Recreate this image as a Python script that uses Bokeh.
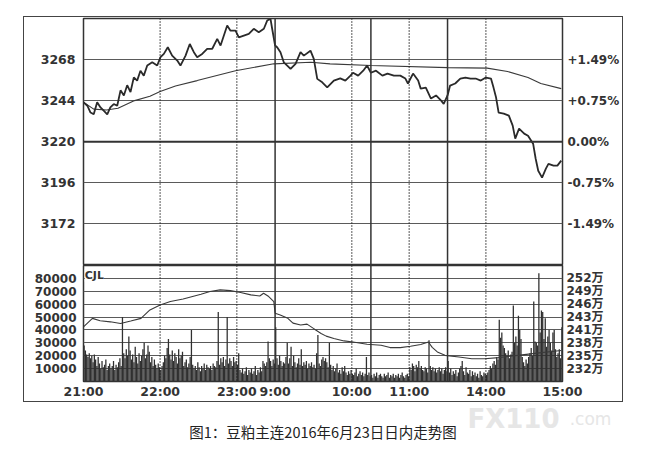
from bokeh.plotting import figure
from bokeh.models import Range1d, LinearAxis, FixedTicker, Span, Label, ColumnDataSource, Spacer
from bokeh.layouts import column, row
from bokeh.embed import file_html
from bokeh.resources import INLINE
from bokeh.core.properties import value

# ---------------- data ----------------
# x = trading-minute index: 21:00-23:30 | 9:00-10:15 | 10:30-11:30 | 13:30-15:00
tick_minutes = [0, 60, 120, 150, 210, 255, 315, 375]
tick_labels = ["21:00", "22:00", "23:00", "9:00", "10:00", "11:00", "14:00", "15:00"]
session_breaks = [150, 225, 285]
hour_lines = [60, 120, 210, 255, 315]

price_ticks = [3172, 3196, 3220, 3244, 3268]
pct_labels = ["-1.49%", "-0.75%", "0.00%", "+0.75%", "+1.49%"]
prev_settle = 3220

vol_ticks = [10000, 20000, 30000, 40000, 50000, 60000, 70000, 80000]
oi_labels = ["232万", "235万", "238万", "241万", "243万", "246万", "249万", "252万"]

price_min = [0, 3, 5.5, 8, 10.7, 13.3, 16, 18.6, 21, 23.7, 26.4, 29, 31.6, 34.2, 36.8, 39.4,
             42, 44.6, 47.2, 49.9, 53.8, 57.7, 60.3, 62.9, 66, 69.4, 73.4, 75.9, 79.9, 83.2,
             86.4, 89, 92.9, 96.8, 100.8, 104.7, 107.3, 112.5, 115.1, 119, 121.6, 125.5,
             129.4, 133.3, 137.2, 141.2, 143.8, 146.4, 147.7,
             150, 151.6, 154.2, 156.8, 159.5, 162.1, 166, 169.9, 172.5, 177.7, 180.3, 183,
             186.9, 190.8, 196, 201, 205, 209, 211, 215, 219, 222, 225, 229, 234, 238, 243,
             248, 252, 254, 258, 262, 264, 268, 272, 276, 280, 282, 285, 287, 291, 295, 299,
             303, 307, 311, 315, 319, 321, 323, 325, 329, 333, 336, 338, 341, 345, 348, 352,
             354, 356, 359, 362, 364, 368, 371, 374]
price = [3243, 3241, 3237, 3236, 3243, 3240, 3238, 3236, 3240, 3242, 3241, 3250, 3247, 3253,
         3249, 3257.6, 3255.7, 3261.5, 3258.6, 3264.5, 3266.4, 3264.5, 3269.4, 3271.3,
         3275.2, 3270.3, 3267.4, 3264.5, 3270.3, 3277.1, 3272.3, 3269.4, 3271.3, 3274.3,
         3274.3, 3280.1, 3276.2, 3287.9, 3284.9, 3284.9, 3281, 3282, 3283, 3286, 3284, 3286,
         3290.8, 3291.8, 3286,
         3276.2, 3275.2, 3272.3, 3266.4, 3264.5, 3262.5, 3265.5, 3272.3, 3270.3, 3273.2,
         3268.4, 3256.7, 3254.7, 3251.8, 3255.7, 3257, 3255.7, 3258.6, 3260.3, 3258.6,
         3261.5, 3264.5, 3260.3, 3261.5, 3258.6, 3259.8, 3258.6, 3258.6, 3256.9, 3254,
         3259.8, 3255.7, 3251, 3251.6, 3245.2, 3247, 3244, 3242.1, 3247, 3252.8, 3254,
         3256.9, 3257.5, 3256.9, 3256.9, 3255.7, 3257.5, 3256.9, 3251.6, 3245.8, 3237,
         3236.4, 3235.2, 3229.4, 3221.8, 3227.6, 3224.7, 3223.5, 3218.8, 3210, 3203, 3199,
         3204.2, 3207, 3206, 3206, 3208.9]

avg_min = [0, 8, 18, 27, 40, 52, 60, 72, 89, 119, 149, 178, 193, 225, 285, 316, 332, 348, 358, 374]
avg_price = [3243, 3239, 3238.5, 3239.5, 3244, 3246.5, 3249.3, 3252.5, 3255.7, 3261.5,
             3265.5, 3266.4, 3265.5, 3264.5, 3263.3, 3263, 3261, 3257.5, 3254, 3251]

# volume (CJL) per minute, in thousands of lots
volume_k = [
    28, 24, 21, 19, 22, 18, 20, 15, 21, 17,
    12, 19, 14, 10, 16, 11, 13, 17, 9, 12,
    14, 10, 12, 16, 9, 13, 11, 15, 18, 12,
    50, 22, 18, 25, 20, 35, 24, 17, 21, 15,
    27, 19, 14, 22, 16, 20, 25, 30, 18, 21,
    28, 23, 15, 19, 12, 17, 13, 10, 14, 11,
    9, 12, 15, 20, 18, 26, 33, 21, 17, 24,
    16, 22, 19, 14, 25, 18, 20, 23, 12, 15,
    17, 11, 14, 19, 40, 13, 10, 12, 9, 15,
    11, 8, 12, 10, 14, 9, 13, 11, 10, 12,
    9, 14, 12, 11, 16, 54, 13, 18, 15, 19,
    12, 17, 50, 14, 18, 16, 12, 19, 15, 16,
    13, 22, 9, 7, 10, 6, 8, 11, 5, 9,
    7, 10, 6, 8, 12, 5, 9, 7, 11, 8,
    16, 14, 12, 15, 31, 18, 16, 12, 17, 14,
    42, 18, 13, 20, 16, 12, 15, 14, 19, 30,
    14, 18, 27, 12, 20, 15, 11, 14, 18, 13,
    25, 12, 15, 13, 16, 10, 14, 12, 15, 11,
    13, 10, 22, 36, 14, 12, 17, 19, 16, 18,
    15, 11, 30, 13, 9, 12, 8, 10, 14, 7,
    9, 6, 11, 8, 12, 7, 5, 8, 6, 9,
    6, 5, 7, 10, 4, 6, 8, 5, 7, 4,
    6, 19, 5, 7, 4, 5, 3, 6, 4, 7,
    3, 5, 6, 4, 3, 6, 4, 5, 7, 3,
    5, 4, 6, 3, 5, 4, 6, 3, 5, 7,
    4, 3, 5, 6, 4, 11, 9, 14, 12, 8,
    13, 11, 16, 10, 12, 9, 8, 11, 10, 7,
    32, 12, 9, 11, 8, 10, 7, 9, 11, 8,
    10, 6, 9, 11, 8,
    16, 7, 10, 5, 8, 6, 9, 4, 7, 10,
    12, 16, 8, 5, 11, 7, 6, 9, 4, 8,
    5, 7, 4, 6, 3, 8, 5, 4, 7, 6,
    5, 7, 9, 12, 10, 14, 16, 13, 19, 17,
    48, 34, 38, 28, 26, 22, 20, 24, 18, 21,
    23, 59, 30, 35, 28, 51, 40, 33, 19, 15,
    12, 17, 14, 19, 22, 26, 20, 62, 31, 30,
    28, 84, 38, 55, 54, 33, 49, 27, 35, 40,
    30, 24, 38, 40, 25, 19, 22, 25, 18, 42,
]

# open interest (持仓量), in 万 lots
oi_min = [0, 7, 13, 21, 29, 37, 45, 52, 60, 68, 78, 92, 99, 107, 115, 123, 131, 138, 141,
          145, 149, 150, 154, 160, 164, 170, 175, 180, 186, 190, 196, 204, 211, 222, 233,
          240, 248, 256, 264, 270, 273, 277, 283, 294, 304, 314, 325, 340, 355, 374]
oi_wan = [241.26, 243.14, 242.60, 242.37, 242.00, 242.54, 243.14, 245.00, 246.11, 246.86,
          247.43, 248.49, 249.09, 249.46, 249.29, 248.86, 248.34, 248.11, 248.71, 247.97,
          246.86, 244.29, 243.89, 243.14, 242.09, 241.66, 241.86, 240.91, 239.80, 239.20,
          238.66, 238.14, 237.91, 237.40, 237.17, 236.66, 236.66, 236.94, 237.34, 237.91,
          236.71, 235.69, 234.94, 234.57, 234.20, 234.20, 234.43, 234.94, 235.43, 236.00]

caption = "图1：豆粕主连2016年6月23日日内走势图"

# ---------------- style ----------------
INK = "#333333"
GRID = "#5a5a5a"
FONT = "DejaVu Sans"
FW = 479          # plot-frame width in px
LB, RB = 59, 59

assert len(volume_k) == 375
assert len(price_min) == len(price)


def style_axis(ax, size, standoff, font=FONT):
    ax.axis_line_color = None
    ax.major_tick_line_color = None
    ax.minor_tick_line_color = None
    ax.major_tick_out = 0
    ax.major_tick_in = 0
    ax.minor_tick_out = 0
    ax.minor_tick_in = 0
    ax.major_label_text_font = font
    ax.major_label_text_font_style = "bold"
    ax.major_label_text_font_size = size
    ax.major_label_text_color = INK
    ax.major_label_standoff = standoff


# ---------------- price panel ----------------
p1 = figure(frame_width=FW, frame_height=247, x_range=Range1d(0, 375),
            y_range=Range1d(3147.6, 3292),
            toolbar_location=None, output_backend="svg", x_axis_location=None,
            y_axis_location="left", min_border_left=LB, min_border_right=RB,
            min_border_top=1, min_border_bottom=0,
            outline_line_color=INK, outline_line_width=1.5)
p1.background_fill_color = "white"
p1.border_fill_color = "white"
p1.xgrid.visible = False
p1.ygrid.ticker = FixedTicker(ticks=[t for t in price_ticks if t != prev_settle])
p1.ygrid.grid_line_color = GRID
p1.ygrid.grid_line_width = 1

ya = p1.yaxis[0]
ya.ticker = FixedTicker(ticks=price_ticks)
ya.major_label_overrides = {t: str(t) for t in price_ticks}

pr = LinearAxis(ticker=FixedTicker(ticks=price_ticks),
                major_label_overrides=dict(zip(price_ticks, pct_labels)))
p1.add_layout(pr, "right")

style_axis(ya, "12.5px", 8)
style_axis(pr, "12px", 5)

p1.add_layout(Span(location=prev_settle, dimension="width", line_color=INK, line_width=2))

# ---------------- volume panel ----------------
k_oi = (252 - 232) / (vol_ticks[-1] - vol_ticks[0])
oi_start = 232 - vol_ticks[0] * k_oi
oi_end = 232 + (90000 - vol_ticks[0]) * k_oi

p2 = figure(frame_width=FW, frame_height=116, x_range=p1.x_range, y_range=Range1d(0, 90000),
            toolbar_location=None, output_backend="svg", x_axis_location="below",
            y_axis_location="left", min_border_left=LB, min_border_right=RB,
            min_border_top=0, min_border_bottom=17,
            outline_line_color=INK, outline_line_width=1.5)
p2.extra_y_ranges = {"oi": Range1d(oi_start, oi_end)}
p2.background_fill_color = "white"
p2.border_fill_color = "white"
p2.xgrid.visible = False
p2.ygrid.ticker = FixedTicker(ticks=vol_ticks)
p2.ygrid.grid_line_color = GRID
p2.ygrid.grid_line_width = 1

va = p2.yaxis[0]
va.ticker = FixedTicker(ticks=vol_ticks)
va.major_label_overrides = {t: str(t) for t in vol_ticks}
vr = LinearAxis(ticker=FixedTicker(ticks=vol_ticks),
                major_label_overrides=dict(zip(vol_ticks, oi_labels)))
p2.add_layout(vr, "right")
xa = p2.xaxis[0]
xa.ticker = FixedTicker(ticks=tick_minutes)
xa.major_label_overrides = dict(zip(tick_minutes, tick_labels))

style_axis(va, "12px", 7)
style_axis(vr, "12px", 4, FONT + ", Noto Sans CJK SC")
style_axis(xa, "12.5px", 2)

# shared vertical lines
for p in (p1, p2):
    for m in hour_lines:
        p.add_layout(Span(location=m, dimension="height", line_color="#222222",
                          line_width=1.5, line_dash="1 2"))
    for m in session_breaks:
        p.add_layout(Span(location=m, dimension="height", line_color=INK, line_width=1.5))

# glyphs
vol_src = ColumnDataSource(dict(x=[i + 0.5 for i in range(len(volume_k))],
                                v=[k * 1000 for k in volume_k]))
p2.vbar(x="x", top="v", bottom=0, width=1.0, source=vol_src,
        fill_color="#303030", line_color=None)
p2.line(oi_min, oi_wan, y_range_name="oi", line_color="#3a3a3a", line_width=1.1)
p2.add_layout(Label(x=1, y=82500, text="CJL", text_font=FONT, text_font_style="bold",
                    text_font_size="11px", text_color=INK, text_baseline="middle",
                    background_fill_color="white"))

p1.line(avg_min, avg_price, line_color="#3a3a3a", line_width=1.1)
p1.line(price_min, price, line_color="#2a2a2a", line_width=1.8)

frame = column(p1, p2, styles={"border": "1px solid #444444"})

# caption area
cap = figure(width=645, height=54, x_range=Range1d(0, 645), y_range=Range1d(0, 54),
             toolbar_location=None, output_backend="svg", x_axis_location=None,
             y_axis_location=None, min_border=0, outline_line_color=None)
cap.grid.visible = False
cap.text(x=[513], y=[38], text=["FX110"], text_font=value("DejaVu Sans"),
         text_font_style="bold", text_font_size="26px", text_color="#e6e6e6",
         text_align="center", text_baseline="middle")
cap.text(x=[590], y=[38], text=[".com"], text_font=value("DejaVu Sans"),
         text_font_size="17px", text_color="#e6e6e6", text_align="center",
         text_baseline="middle")
cap.text(x=[322.5], y=[25], text=[caption], text_font=value("Noto Sans CJK SC"),
         text_font_size="14.5px", text_color="#222222", text_align="center",
         text_baseline="middle")

layout = column(Spacer(width=10, height=16),
                row(Spacer(width=23, height=10), frame),
                cap)
open("out.html", "w").write(file_html(layout, INLINE))
